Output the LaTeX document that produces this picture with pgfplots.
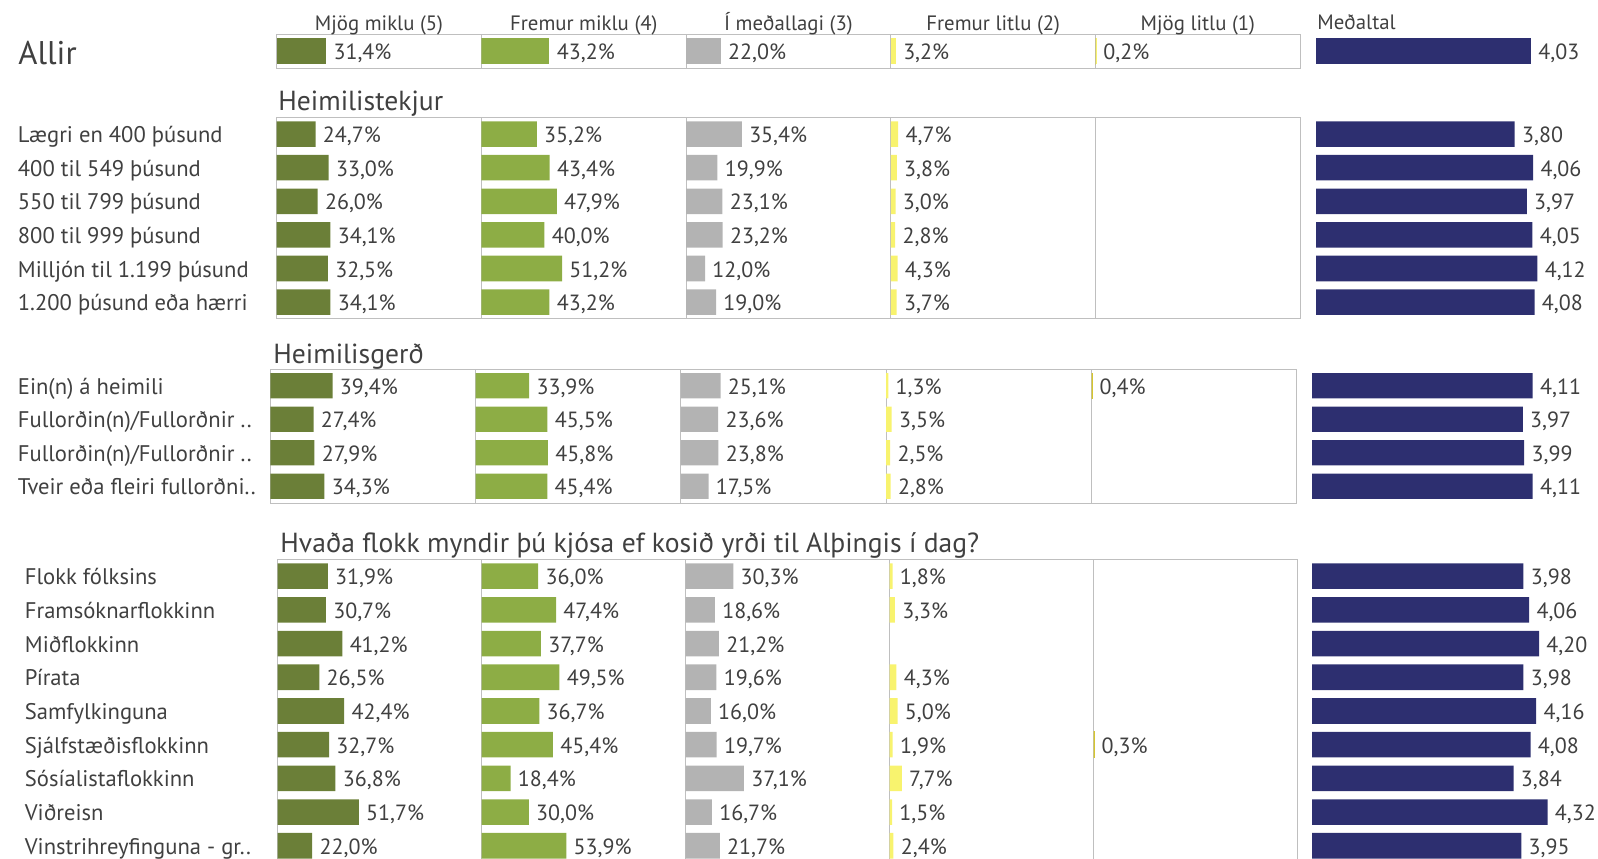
\documentclass[border=0pt]{standalone}
\usepackage{pgfplots}
\pgfplotsset{compat=1.18}
\usepackage{pgfplotstable}
\usepackage{fontspec}
\setmainfont{PT Sans}
\definecolor{cA}{HTML}{6B7F38}
\definecolor{cB}{HTML}{8DAD45}
\definecolor{cC}{HTML}{B3B3B3}
\definecolor{cD}{HTML}{F8F36E}
\definecolor{cEd}{HTML}{D6C62E}
\definecolor{cM}{HTML}{2D2F70}
\definecolor{bord}{HTML}{BFBFBF}
\definecolor{txt}{HTML}{404040}

\pgfplotstableread{
r a b c d e m
0 31.4 43.2 22.0 3.2 0.2 4.03
}\tAllir
\pgfplotstableread{
r a b c d e m
0 24.7 35.2 35.4 4.7 nan 3.80
1 33.0 43.4 19.9 3.8 nan 4.06
2 26.0 47.9 23.1 3.0 nan 3.97
3 34.1 40.0 23.2 2.8 nan 4.05
4 32.5 51.2 12.0 4.3 nan 4.12
5 34.1 43.2 19.0 3.7 nan 4.08
}\tTekjur
\pgfplotstableread{
r a b c d e m
0 39.4 33.9 25.1 1.3 0.4 4.11
1 27.4 45.5 23.6 3.5 nan 3.97
2 27.9 45.8 23.8 2.5 nan 3.99
3 34.3 45.4 17.5 2.8 nan 4.11
}\tGerd
\pgfplotstableread{
r a b c d e m
0 31.9 36.0 30.3 1.8 nan 3.98
1 30.7 47.4 18.6 3.3 nan 4.06
2 41.2 37.7 21.2 nan nan 4.20
3 26.5 49.5 19.6 4.3 nan 3.98
4 42.4 36.7 16.0 5.0 nan 4.16
5 32.7 45.4 19.7 1.9 0.3 4.08
6 36.8 18.4 37.1 7.7 nan 3.84
7 51.7 30.0 16.7 1.5 nan 4.32
8 22.0 53.9 21.7 2.4 nan 3.95
}\tFlokk

\newcommand{\valfont}{\fontsize{11}{13}\selectfont}
\newcommand{\labfont}{\fontsize{11.3}{13}\selectfont}
\pgfplotsset{
  pbase/.style={scale only axis, anchor=north west, ymin=-0.5, y dir=reverse,
    xbar, bar width=0.76, xtick=\empty, ytick=\empty, point meta=x,
    nodes near coords style={anchor=west, inner sep=0pt, xshift=3.5pt, yshift=-0.8pt, font=\valfont, text=txt,
      text height=0.7em, text depth=0pt}},
  ppanel/.style={pbase, xmin=0, xmax=130,
    axis line style={draw=bord, line width=0.5pt},
    nodes near coords={\pgfmathprintnumber[fixed,fixed zerofill,precision=1,use comma,assume math mode=true]{\pgfplotspointmeta}\%}},
  pmean/.style={pbase, xmin=1, xmax=5.2, width=149pt, axis lines=none,
    nodes near coords={\pgfmathprintnumber[fixed,fixed zerofill,precision=2,use comma,assume math mode=true]{\pgfplotspointmeta}}},
}

% #1 table, #2 column, #3 plot style, #4 x, #5 y, #6 width, #7 height, #8 ymax
\newcommand{\panel}[8]{%
  \begin{axis}[ppanel, at={(#4pt,-#5pt)}, width=#6pt, height=#7pt, ymax=#8]
    \addplot[#3] table[x=#2, y=r] {#1};
  \end{axis}}
% #1 table, #2 x, #3 y, #4 height, #5 ymax
\newcommand{\mean}[5]{%
  \begin{axis}[pmean, at={(#2pt,-#3pt)}, height=#4pt, ymax=#5]
    \addplot[fill=cM, draw=none] table[x=m, y=r] {#1};
  \end{axis}}

\newcommand{\block}[7]{% #1 table, #2 x0, #3 panel width, #4 y, #5 height, #6 ymax, #7 mean x
  \pgfmathsetmacro{\xa}{#2}\pgfmathsetmacro{\xb}{#2+#3}\pgfmathsetmacro{\xc}{#2+2*#3}%
  \pgfmathsetmacro{\xd}{#2+3*#3}\pgfmathsetmacro{\xe}{#2+4*#3}%
  \panel{#1}{a}{fill=cA,draw=none}{\xa}{#4}{#3}{#5}{#6}
  \panel{#1}{b}{fill=cB,draw=none}{\xb}{#4}{#3}{#5}{#6}
  \panel{#1}{c}{fill=cC,draw=none}{\xc}{#4}{#3}{#5}{#6}
  \panel{#1}{d}{fill=cD,draw=none}{\xd}{#4}{#3}{#5}{#6}
  \panel{#1}{e}{fill=cD,draw=cEd,line width=0.5pt}{\xe}{#4}{#3}{#5}{#6}
  \mean{#1}{#7}{#4}{#5}{#6}}

\begin{document}
\begin{tikzpicture}[
  lab/.style={anchor=west, inner sep=0pt, text height=0.7em, text depth=0pt, yshift=-0.8pt, font=\labfont, text=txt},
  hdr/.style={anchor=base, inner sep=0pt, font=\fontsize{10.4}{12}\selectfont, text=txt},
  sec/.style={anchor=base west, inner sep=0pt, font=\fontsize{13.8}{16}\selectfont, text=txt}]
\useasboundingbox (0pt,0pt) rectangle (799pt,-429pt);
\clip (0pt,0pt) rectangle (799pt,-429pt);

\block{\tAllir}{138.35}{102.35}{17.15}{17}{0.5}{658}
\block{\tTekjur}{138.35}{102.35}{58.65}{100.8}{5.5}{658}
\block{\tGerd}{135.15}{102.65}{184.5}{67}{3.5}{656}
\block{\tFlokk}{138.85}{102}{279.65}{151.65}{8.5}{656}

% column headers
\node[hdr] at (189.5pt,-15pt) {Mjög miklu (5)};
\node[hdr] at (291.9pt,-15pt) {Fremur miklu (4)};
\node[hdr] at (394.2pt,-15pt) {Í meðallagi (3)};
\node[hdr] at (496.6pt,-15pt) {Fremur litlu (2)};
\node[hdr] at (598.9pt,-15pt) {Mjög litlu (1)};
\node[hdr, anchor=base west] at (658.5pt,-14.6pt) {Meðaltal};

% section titles
\node[sec, font=\fontsize{16.4}{19}\selectfont] at (9pt,-32.3pt) {Allir};
\node[sec] at (139pt,-55.3pt) {Heimilistekjur};
\node[sec] at (136.5pt,-181.8pt) {Heimilisgerð};
\node[sec] at (140pt,-276pt) {Hvaða flokk myndir þú kjósa ef kosið yrði til Alþingis í dag?};

% row labels
\foreach \t [count=\i from 0] in {Lægri en 400 þúsund, 400 til 549 þúsund, 550 til 799 þúsund, 800 til 999 þúsund, Milljón til 1.199 þúsund, 1.200 þúsund eða hærri}
  \node[lab] at (8.75pt, {-(58.65+16.8*(\i+0.5))*1pt}) {\t};
\foreach \t [count=\i from 0] in {Ein(n) á heimili, Fullorðin(n)/Fullorðnir .., Fullorðin(n)/Fullorðnir .., Tveir eða fleiri fullorðni..}
  \node[lab] at (8.75pt, {-(184.5+16.75*(\i+0.5))*1pt}) {\t};
\foreach \t [count=\i from 0] in {Flokk fólksins, Framsóknarflokkinn, Miðflokkinn, Pírata, Samfylkinguna, Sjálfstæðisflokkinn, Sósíalistaflokkinn, Viðreisn, Vinstrihreyfinguna - gr..}
  \node[lab] at (12.25pt, {-(279.65+16.85*(\i+0.5))*1pt}) {\t};
\end{tikzpicture}
\end{document}
